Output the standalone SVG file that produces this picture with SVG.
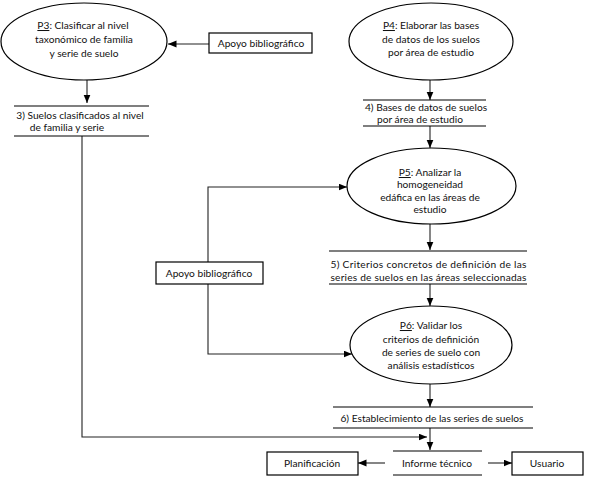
<svg xmlns="http://www.w3.org/2000/svg" width="590" height="478" viewBox="0 0 590 478">
<style>
text{font-family:Lato,"Liberation Sans",sans-serif;font-size:10.2px;fill:#111;text-anchor:middle}
.sh{fill:#fff;stroke:#000;stroke-width:1.2}
.ds{stroke:#000;stroke-width:1.2}
.c{fill:none;stroke:#222;stroke-width:1.1;marker-end:url(#ah)}
.u{text-decoration:underline}
</style>
<defs>
<marker id="ah" markerUnits="userSpaceOnUse" markerWidth="9" markerHeight="8" refX="8.5" refY="3.5" orient="auto">
<path d="M0,0 L8.5,3.5 L0,7 z" fill="#000"/>
</marker>
</defs>
<rect width="590" height="478" fill="#fff"/>
<g id="connectors">
<path class="c" d="M209,44 H168"/>
<path class="c" d="M87,80 V103"/>
<path class="c" d="M430,80 V100"/>
<path class="c" d="M430,126 V148"/>
<path class="c" d="M208,262 V187 H347"/>
<path class="c" d="M430,224 V250"/>
<path class="c" d="M208,284 V354 H352"/>
<path class="c" d="M430,284 V306"/>
<path class="c" d="M430,384 V407"/>
<path class="c" d="M82,136 V437 H427"/>
<path class="c" d="M430,428 V450"/>
<path class="c" d="M385,463 H358"/>
<path class="c" d="M488,463 H512"/>
</g>
<g id="p3">
<ellipse class="sh" cx="84" cy="41.5" rx="83" ry="38.5"/>
<text x="83" y="29"><tspan class="u">P3</tspan>: Clasificar al nivel</text>
<text x="84" y="43">taxonómico de familia</text>
<text x="84" y="57">y serie de suelo</text>
</g>
<g id="apoyo1">
<rect class="sh" x="209" y="33" width="103" height="20"/>
<text x="261" y="47">Apoyo bibliográfico</text>
</g>
<g id="store3">
<line class="ds" x1="14" y1="106" x2="149" y2="106"/>
<line class="ds" x1="14" y1="136" x2="149" y2="136"/>
<text x="80" y="119">3) Suelos clasificados al nivel</text>
<text x="67" y="131">de familia y serie</text>
</g>
<g id="p4">
<ellipse class="sh" cx="431" cy="41.5" rx="82" ry="38.5"/>
<text x="431" y="29"><tspan class="u">P4</tspan>: Elaborar las bases</text>
<text x="431" y="43">de datos de los suelos</text>
<text x="431" y="56">por área de estudio</text>
</g>
<g id="store4">
<line class="ds" x1="363" y1="100" x2="486" y2="100"/>
<line class="ds" x1="363" y1="126" x2="486" y2="126"/>
<text x="426" y="111">4) Bases de datos de suelos</text>
<text x="420" y="123">por área de estudio</text>
</g>
<g id="p5">
<ellipse class="sh" cx="431.5" cy="186" rx="84.5" ry="38"/>
<text x="430" y="176"><tspan class="u">P5</tspan>: Analizar la</text>
<text x="430" y="188">homogeneidad</text>
<text x="430" y="201">edáfica en las áreas de</text>
<text x="430" y="213">estudio</text>
</g>
<g id="apoyo2">
<rect class="sh" x="156" y="262" width="107" height="22"/>
<text x="209" y="277">Apoyo bibliográfico</text>
</g>
<g id="store5">
<line class="ds" x1="329" y1="251" x2="527" y2="251"/>
<line class="ds" x1="329" y1="284" x2="527" y2="284"/>
<text x="428.5" y="268" textLength="196" lengthAdjust="spacing">5) Criterios concretos de definición de las</text>
<text x="428.5" y="281" textLength="196" lengthAdjust="spacing">series de suelos en las áreas seleccionadas</text>
</g>
<g id="p6">
<ellipse class="sh" cx="431" cy="345" rx="81" ry="39"/>
<text x="431" y="329"><tspan class="u">P6</tspan>: Validar los</text>
<text x="431" y="343">criterios de definición</text>
<text x="431" y="356">de series de suelo con</text>
<text x="431" y="369">análisis  estadísticos</text>
</g>
<g id="store6">
<line class="ds" x1="333" y1="407" x2="533" y2="407"/>
<line class="ds" x1="333" y1="428" x2="533" y2="428"/>
<text x="432" y="422">6) Establecimiento de las series de suelos</text>
</g>
<g id="informe">
<line class="ds" x1="393" y1="451" x2="482" y2="451"/>
<line class="ds" x1="393" y1="475" x2="482" y2="475"/>
<text x="437" y="467">Informe técnico</text>
</g>
<g id="planificacion">
<rect class="sh" x="267" y="452" width="91" height="23"/>
<text x="312" y="467">Planificación</text>
</g>
<g id="usuario">
<rect class="sh" x="512" y="452" width="71" height="23"/>
<text x="547" y="467">Usuario</text>
</g>
</svg>
